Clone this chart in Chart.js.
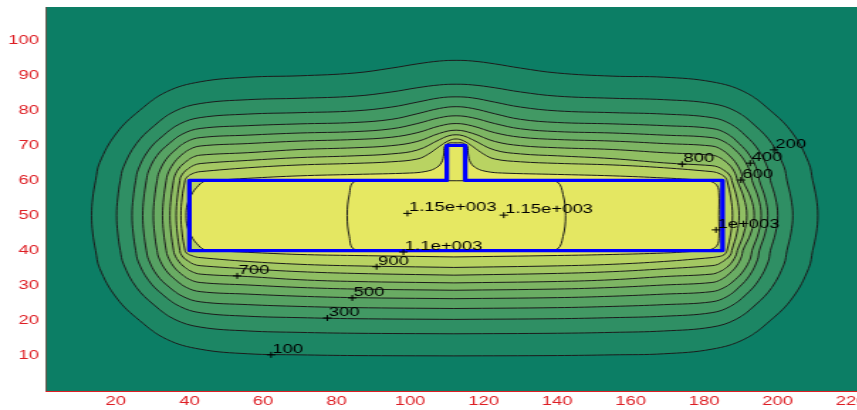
<!DOCTYPE html>
<html>
<head>
<meta charset="utf-8">
<script src="https://cdn.jsdelivr.net/npm/chart.js@4.4.1/dist/chart.umd.min.js"></script>
<style>
  html, body { margin: 0; padding: 0; background: #fff; overflow: hidden; }
  #wrap { width: 857px; height: 410px; overflow: hidden; }
  /* the plot is drawn narrow and stretched sideways, like the exported figure */
  #stretch { width: 615px; height: 410px; transform: scaleX(1.42); transform-origin: 0 0; }
</style>
</head>
<body>
<div id="wrap"><div id="stretch"><canvas id="contourChart" width="615" height="410"></canvas></div></div>
<script>
// Tick positions
const xTicks = [20, 40, 60, 80, 100, 120, 140, 160, 180, 200, 220];
const yTicks = [10, 20, 30, 40, 50, 60, 70, 80, 90, 100];

// Contour levels, outermost first
const levels = [100, 200, 300, 400, 500, 600, 700, 800, 900, 1000, 1150];

// Contour paths as [x, y], each one closed
const c100 = [[112,10],[85,10.1],[70,10.3],[56,10.6],[43,11.9],
  [33.9,14.7],[26.5,20.05],[20.2,26.5],[15.6,34.9],
  [14.5,40],[13.7,45],[13.4,50],[13.7,55],[14.5,60],
  [15.6,65.1],[20.2,73.5],[26.5,79.95],[33.9,85.3],
  [43,88.1],[56,89.4],[70,89.8],[85,90.6],
  [95,92.0],[102,93.2],[108,94.0],[112.5,94.2],[117,94.0],[123,93.2],[130,92.0],
  [140,90.6],[155,89.7],[169,89.4],[182,88.1],
  [190.8,85.3],[197.95,79.95],[204,73.5],[208.4,65.1],
  [209.5,60],[210.5,55],[210.9,50],[210.5,45],[209.5,40],
  [208.4,34.9],[204,26.5],[197.95,20.05],[190.8,14.7],
  [182,11.9],[169,10.6],[155,10.3],[140,10.1],[112,10]];

const c200 = [[112,16.3],[85,16.45],[70,16.7],[56,17.1],[43,18.2],
  [36.0,20.4],[30.4,24.5],[25.6,29.5],[22.1,36.1],
  [21.2,40],[20.5,45],[20.2,50],[20.5,55],[21.2,60],
  [22.1,63.9],[25.6,70.5],[30.4,75.55],[36.0,79.7],
  [43,81.9],[56,83.0],[70,83.4],[85,84.0],
  [95,85.2],[102,86.4],[108,87.2],[112.5,87.4],[117,87.2],[123,86.4],[130,85.2],
  [140,84.0],[155,83.4],[169,83.0],[182,81.9],
  [188.6,79.7],[193.9,75.55],[198.4,70.5],[201.7,63.9],
  [202.5,60],[203.6,55],[204.1,50],[203.6,45],[202.5,40],
  [201.7,36.1],[198.4,29.5],[193.9,24.5],[188.6,20.4],
  [182,18.2],[169,17.1],[155,16.7],[140,16.45],[112,16.3]];

const c300 = [[112,20.4],[85,20.6],[70,20.9],[56,21.3],[43,22.3],
  [37.4,24.1],[32.8,27.4],[28.9,31.5],[26.1,36.8],
  [25.4,40],[24.7,45],[24.4,50],[24.7,55],[25.4,60],
  [26.1,63.2],[28.9,68.6],[32.8,72.7],[37.4,76.1],
  [43,77.9],[56,78.9],[70,79.3],[85,79.8],
  [95,80.9],[102,82.3],[108,83.5],[112.5,83.8],[117,83.5],[123,82.3],[130,80.9],
  [140,79.8],[155,79.3],[169,78.9],[182,77.9],
  [187.1,76.1],[191.3,72.7],[194.8,68.6],[197.4,63.2],
  [198,60],[199.4,55],[200,50],[199.4,45],[198,40],
  [197.4,36.8],[194.8,31.5],[191.3,27.4],[187.1,24.1],
  [182,22.3],[169,21.3],[155,20.9],[140,20.6],[112,20.4]];

const c400 = [[112,23.5],[85,23.75],[70,24.1],[56,24.6],[43,25.4],
  [38.3,26.9],[34.5,29.6],[31.2,33.0],[28.9,37.4],
  [28.3,40],[27.6,45],[27.3,50],[27.6,55],[28.3,60],
  [28.9,62.7],[31.2,67.1],[34.5,70.5],[38.3,73.3],
  [43,74.8],[56,75.6],[70,76.1],[85,76.5],
  [95,77.4],[102,79.0],[108,80.5],[112.5,81.0],[117,80.5],[123,79.0],[130,77.4],
  [140,76.5],[155,76.1],[169,75.6],[182,74.8],
  [186.2,73.3],[189.5,70.5],[192.4,67.1],[194.5,62.7],
  [195,60],[196.6,55],[197.3,50],[196.6,45],[195,40],
  [194.5,37.4],[192.4,33.0],[189.5,29.6],[186.2,26.9],
  [182,25.4],[169,24.6],[155,24.1],[140,23.75],[112,23.5]];

const c500 = [[112,26.3],[85,26.6],[70,27.0],[56,27.6],[43,28.3],
  [39.2,29.5],[36.2,31.7],[33.6,34.4],[31.7,37.9],
  [31.2,40],[30.5,45],[30.2,50],[30.5,55],[31.2,60],
  [31.7,62.2],[33.6,65.9],[36.2,68.7],[39.2,71.0],
  [43,72.2],[56,72.9],[70,73.5],[85,73.9],
  [95,74.7],[102,76.2],[108,77.85],[112.5,78.4],[117,77.85],[123,76.2],[130,74.7],
  [140,73.9],[155,73.5],[169,72.9],[182,72.2],
  [185.5,71.0],[188.4,68.7],[190.8,65.9],[192.6,62.2],
  [193,60],[194.75,55],[195.5,50],[194.75,45],[193,40],
  [192.6,37.9],[190.8,34.4],[188.4,31.7],[185.5,29.5],
  [182,28.3],[169,27.6],[155,27.0],[140,26.6],[112,26.3]];

const c600 = [[112,28.7],[85,29.05],[70,29.5],[56,30.2],[43,30.9],
  [40.0,31.8],[37.6,33.5],[35.6,35.6],[34.1,38.4],
  [33.7,40],[33.0,45],[32.7,50],[33.0,55],[33.7,60],
  [34.1,61.8],[35.6,64.7],[37.6,67.0],[40.0,68.8],
  [43,69.8],[56,70.5],[70,71.2],[85,71.65],
  [95,72.3],[102,73.6],[108,75.5],[112.5,76.2],[117,75.5],[123,73.6],[130,72.3],
  [140,71.65],[155,71.2],[169,70.5],[182,69.8],
  [184.7,68.8],[186.9,67.0],[188.8,64.7],[190.2,61.8],
  [190.5,60],[192.7,55],[193.6,50],[192.7,45],[190.5,40],
  [190.2,38.4],[188.8,35.6],[186.9,33.5],[184.7,31.8],
  [182,30.9],[169,30.2],[155,29.5],[140,29.05],[112,28.7]];

const c700 = [[112,30.8],[85,31.2],[70,31.7],[56,32.6],[43,33.3],
  [40.7,34.0],[38.8,35.2],[37.2,36.8],[36.0,38.8],
  [35.7,40],[35.0,45],[34.7,50],[35.0,55],[35.7,60],
  [36.0,61.3],[37.2,63.5],[38.8,65.1],[40.7,66.5],
  [43,67.2],[56,67.9],[70,68.8],[85,69.3],
  [95,69.9],[102,71.1],[108,73.4],[112.5,74.3],[117,73.4],[123,71.1],[130,69.9],
  [140,69.3],[155,68.8],[169,67.9],[182,67.2],
  [184.2,66.5],[186.1,65.1],[187.6,63.5],[188.7,61.3],
  [189,60],[190.8,55],[191.6,50],[190.8,45],[189,40],
  [188.7,38.8],[187.6,36.8],[186.1,35.2],[184.2,34.0],
  [182,33.3],[169,32.6],[155,31.7],[140,31.2],[112,30.8]];

const c800 = [[112,33.0],[85,33.5],[70,34.0],[56,34.8],[43,35.7],
  [41.2,36.1],[39.75,36.95],[38.5,37.9],[37.6,39.2],
  [37.4,40],[36.7,45],[36.4,50],[36.7,55],[37.4,60],
  [37.6,60.9],[38.5,62.3],[39.75,63.4],[41.2,64.3],
  [43,64.8],[56,65.7],[70,66.5],[85,67.0],
  [95,67.55],[102,68.65],[108,71.6],[110.5,72.7],[112.5,73.0],[114.5,72.7],[117,71.6],[123,68.65],[130,67.55],
  [140,67.0],[155,66.2],[169,65.0],[182,64.2],
  [183.8,63.8],[185.2,63.0],[186.4,62.1],[187.3,60.8],
  [187.5,60],[188.9,55],[189.5,50],[188.9,45],[187.5,40],
  [187.3,39.1],[186.4,37.9],[185.2,37.0],[183.8,36.1],
  [182,35.7],[169,34.8],[155,34.0],[140,33.5],[112,33.0]];

const c900 = [[112,35.2],[85,35.65],[70,36.1],[56,36.9],[43,38.0],
  [41.7,38.2],[40.6,38.6],[39.6,39.0],[39.0,39.6],
  [38.8,40],[38.0,45],[37.7,50],[38.0,55],[38.8,60],
  [39.0,60.45],[39.6,61.2],[40.6,61.8],[41.7,62.25],
  [43,62.5],[56,63.6],[70,64.4],[85,64.85],
  [95,65.3],[102,66.1],[105,67.5],[108,69.7],[110.5,71.3],[112.5,71.8],[114.5,71.3],[117,69.7],[120,67.5],[123,66.1],[130,65.3],
  [140,64.85],[155,64.4],[169,63.6],[182,62.5],
  [183.3,62.25],[184.4,61.8],[185.4,61.2],[186.0,60.45],
  [186.2,60],[187.25,55],[187.7,50],[187.25,45],[186.2,40],
  [186.0,39.55],[185.4,38.8],[184.4,38.4],[183.3,38.2],
  [182,38.0],[169,36.9],[155,36.1],[140,35.65],[112,35.2]];

const c1000 = [[112,38.2],[85,38.6],[70,38.9],[56,39.5],[47,40.0],[44,40.3],[42,42.0],[40.6,44],
  [39.4,47],[39.1,50],[39.4,53],[40.6,56],[42,58.0],[44,59.7],[47,60.0],[56,60.6],[70,61.3],[85,61.7],
  [100,62.1],[104,62.5],[106.8,63.4],[108.5,65],[109.2,67.5],[109.4,69.6],[110.5,70.6],[112.5,70.7],
  [114.5,70.6],[115.6,69.6],[115.8,67.5],[116.5,65],[118.2,63.4],[121,62.5],[125,62.1],
  [140,61.7],[155,61.3],[169,60.7],[176,60.3],[179.5,60.0],[182,59.6],[183.5,58.5],[184.0,56.5],
  [184.0,50],[184.0,43.5],[183.5,41.5],[182,40.4],[179.5,40.0],[176,39.7],[169,39.3],[155,38.9],[140,38.6],[112,38.2]];

const c1150 = [[100,40.1],[90,40.1],[84.8,40.4],[83.5,44],[82.9,50],[83.5,56],[84.8,59.6],[90,59.9],
  [100,59.9],[125,59.9],[136,59.9],[140.0,59.6],[141.6,56],[142.3,50],[141.6,44],[140.0,40.4],[136,40.1],
  [125,40.1],[100,40.1]];

// Outline of the heated region
const outlineX = [112, 40, 40, 110, 110, 115, 115, 185, 185, 112];
const outlineY = [40, 40, 60, 60, 70, 70, 60, 60, 40, 40];

// Inline contour labels
const labelText = ['100', '200', '300', '400', '500', '600', '700', '800', '900',
  '1e+003', '1.1e+003', '1.15e+003', '1.15e+003'];
const labelX = [62.2, 199, 77.5, 192.5, 84.3, 190, 53, 174, 90.9, 183.2, 98.2, 99.3, 125.5];
const labelY = [10.3, 68.7, 20.8, 64.9, 26.5, 60.1, 32.8, 64.6, 35.4, 45.9, 39.6, 50.6, 50.1];

// Band colours, index 0 is the region below the lowest level
const bandColors = [
  'rgb(12,126,101)', 'rgb(28,134,100)', 'rgb(47,143,100)', 'rgb(66,153,100)',
  'rgb(86,162,99)', 'rgb(105,172,99)', 'rgb(125,181,99)', 'rgb(144,191,99)',
  'rgb(164,200,99)', 'rgb(185,211,98)', 'rgb(228,231,98)', 'rgb(230,232,98)'
];

const axisRed = 'rgb(222,30,36)';
const gridRed = 'rgba(205,45,40,0.75)';
const font13 = { family: '"Liberation Sans", Arial, sans-serif', size: 13 };

const contourPaths = [c100, c200, c300, c400, c500, c600, c700, c800, c900, c1000, c1150];

const datasets = contourPaths.map((path, i) => ({
    label: String(levels[i]),
    data: path.map(([x, y]) => ({ x, y })),
    showLine: true,
    fill: 'shape',
    backgroundColor: bandColors[i + 1],
    borderColor: '#1c1c1c',
    borderWidth: 1,
    pointRadius: 0,
    tension: 0.4,
    order: 100 - i
}));

datasets.push({
    label: 'outline',
    data: outlineX.map((x, i) => ({ x, y: outlineY[i] })),
    showLine: true,
    fill: false,
    borderColor: '#0000ff',
    borderWidth: 3.3,
    borderJoinStyle: 'round',
    pointRadius: 0,
    tension: 0,
    order: 1
});

datasets.push({
    label: 'label marks',
    data: labelX.map((x, i) => ({ x, y: labelY[i] })),
    showLine: false,
    pointStyle: 'cross',
    pointRadius: 3,
    borderColor: '#000',
    borderWidth: 1,
    order: 0
});

// Fill the plot area with the lowest band colour
const plotBackground = {
    id: 'plotBackground',
    beforeDatasetsDraw(chart) {
        const { ctx, chartArea: a } = chart;
        ctx.save();
        ctx.fillStyle = bandColors[0];
        ctx.fillRect(a.left, a.top, a.right - a.left, a.bottom - a.top);
        ctx.restore();
    }
};

// Level text next to each label mark
const contourLabels = {
    id: 'contourLabels',
    afterDatasetsDraw(chart) {
        const { ctx, scales: { x, y } } = chart;
        ctx.save();
        ctx.font = '13px "Liberation Sans", Arial, sans-serif';
        ctx.fillStyle = '#000';
        ctx.textAlign = 'left';
        ctx.textBaseline = 'alphabetic';
        labelText.forEach((t, i) => {
            ctx.fillText(t, x.getPixelForValue(labelX[i]) + 1, y.getPixelForValue(labelY[i]) - 2);
        });
        ctx.restore();
    }
};

new Chart(document.getElementById('contourChart'), {
    type: 'scatter',
    data: { datasets },
    options: {
        responsive: false,
        animation: false,
        events: [],
        layout: { autoPadding: false, padding: { top: 7, right: 0, bottom: 0, left: 0 } },
        plugins: { legend: { display: false }, tooltip: { enabled: false } },
        scales: {
            x: {
                type: 'linear',
                min: 1,
                max: 226,
                z: 1,
                afterBuildTicks: s => { s.ticks = xTicks.map(v => ({ value: v })); },
                afterFit: s => {
                    s.height = 19;
                    s.paddingLeft = 0;
                    s.paddingRight = 0;
                },
                grid: { color: gridRed, lineWidth: 1, drawTicks: true, tickLength: -5, tickColor: axisRed, tickWidth: 1 },
                border: { display: true, color: axisRed, width: 1, dash: [1, 2] },
                ticks: { color: axisRed, font: font13, padding: 8, autoSkip: false, maxRotation: 0 }
            },
            y: {
                type: 'linear',
                min: 0,
                max: 109.4,
                z: 1,
                afterBuildTicks: s => { s.ticks = yTicks.map(v => ({ value: v })); },
                afterFit: s => {
                    s.width = 32.4;
                    s.paddingTop = 0;
                    s.paddingBottom = 0;
                },
                grid: { color: gridRed, lineWidth: 1, drawTicks: true, tickLength: -5, tickColor: axisRed, tickWidth: 1 },
                border: { display: true, color: axisRed, width: 1, dash: [1, 2] },
                ticks: { color: axisRed, font: font13, padding: 10, autoSkip: false }
            }
        }
    },
    plugins: [plotBackground, contourLabels]
});
</script>
</body>
</html>
